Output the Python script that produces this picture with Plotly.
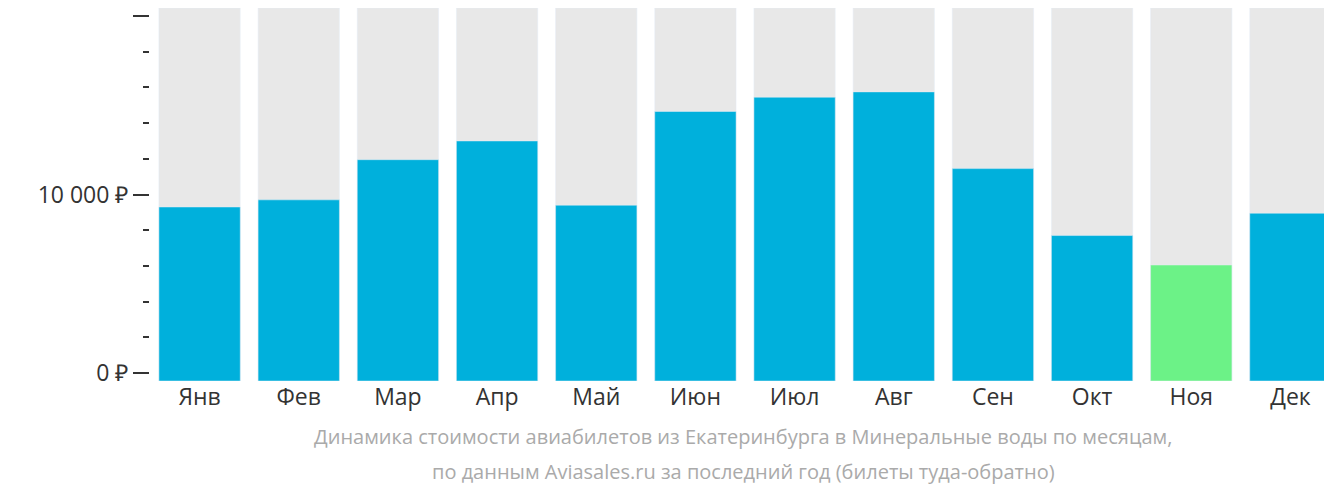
import plotly.graph_objects as go

months = ["Янв", "Фев", "Мар", "Апр", "Май", "Июн", "Июл", "Авг", "Сен", "Окт", "Ноя", "Дек"]
prices = [9300, 9700, 11950, 13000, 9400, 14650, 15450, 15750, 11450, 7700, 6050, 8950]
cheapest = "Ноя"

y_min, y_max = -450, 20450
colors = ["#6cf287" if m == cheapest else "#00b0dc" for m in months]

fig = go.Figure()
fig.add_trace(go.Bar(x=months, y=[y_max - y_min] * 12, base=y_min,
                     marker_color="#e8e8e8", hoverinfo="skip"))
fig.add_trace(go.Bar(x=months, y=[p - y_min for p in prices], base=y_min,
                     marker_color=colors))

fig.update_layout(
    width=1332, height=502, barmode="overlay", bargap=0.18, showlegend=False,
    plot_bgcolor="white", paper_bgcolor="white",
    margin=dict(l=142, r=0, t=0, b=129),
    font=dict(family="Open Sans", size=23, color="#333"),
    annotations=[
        dict(text="Динамика стоимости авиабилетов из Екатеринбурга в Минеральные воды по месяцам,",
             x=0.5, xref="paper", y=-0.19, yref="paper", showarrow=False,
             font=dict(size=20, color="#aaa"), xshift=-2),
        dict(text="по данным Aviasales.ru за последний год (билеты туда-обратно)",
             x=0.5, xref="paper", y=-0.285, yref="paper", showarrow=False,
             font=dict(size=20, color="#aaa"), xshift=-2),
    ],
)
fig.update_xaxes(showline=False, ticks="", tickfont=dict(size=23), automargin=False)
fig.update_yaxes(range=[y_min, y_max], tickvals=[0, 10000, 20000],
                 ticktext=["0 ₽", "10 000 ₽", "20 000 ₽"], ticks="outside",
                 ticklen=16, tickcolor="#333", tickwidth=2, showgrid=False,
                 zeroline=False, tickfont=dict(size=23), automargin=False,
                 minor=dict(dtick=2000, ticks="outside", ticklen=6,
                            tickcolor="#333", tickwidth=2, showgrid=False))
fig.write_html("out.html")
